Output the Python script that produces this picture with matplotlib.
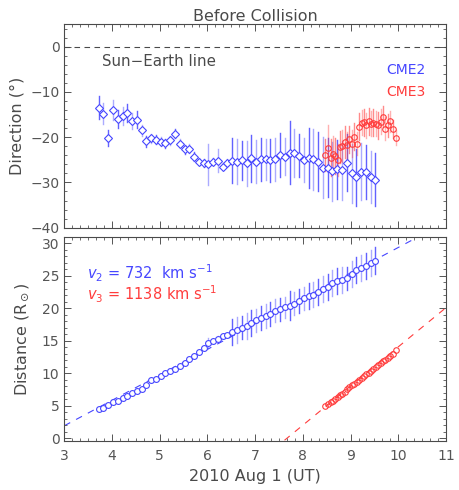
import numpy as np
import matplotlib
matplotlib.use("Agg")
import matplotlib.pyplot as plt
from matplotlib.ticker import MultipleLocator, AutoMinorLocator

# ---------------- data ----------------
t_cme2 = [3.72, 3.82, 3.92, 4.02, 4.12, 4.22, 4.32, 4.42, 4.52, 4.62,
          4.72, 4.82, 4.92, 5.02, 5.12, 5.22, 5.32, 5.42, 5.52, 5.62,
          5.72, 5.82, 5.92, 6.02, 6.12, 6.22, 6.32, 6.42, 6.52, 6.62,
          6.72, 6.82, 6.92, 7.02, 7.12, 7.22, 7.32, 7.42, 7.52, 7.62,
          7.72, 7.82, 7.92, 8.02, 8.12, 8.22, 8.32, 8.42, 8.52, 8.62,
          8.72, 8.82, 8.92, 9.02, 9.12, 9.22, 9.32, 9.42, 9.52]
dir_cme2 = [-13.5, -14.8, -20.2, -14.0, -15.9, -15.4, -14.6, -16.5, -16.1, -18.5,
            -20.9, -20.2, -20.6, -21.0, -21.3, -20.7, -19.2, -21.4, -22.7, -22.6,
            -24.3, -25.4, -25.7, -26.0, -25.4, -25.2, -26.5, -25.6, -25.2, -25.4,
            -25.1, -25.8, -24.7, -25.4, -24.9, -24.9, -25.1, -24.9, -24.0, -24.3,
            -23.4, -23.4, -24.1, -25.0, -24.6, -24.9, -25.4, -26.7, -26.7, -27.5,
            -27.1, -27.3, -25.7, -28.0, -28.9, -27.6, -27.7, -28.8, -29.4]
dir_err_cme2 = [2.5, 2.3, 1.8, 2.2, 2.0, 2.0, 2.0, 1.8, 1.8, 1.2,
                1.2, 1.0, 1.0, 1.0, 1.0, 1.0, 1.0, 1.0, 1.0, 1.0,
                1.0, 0.8, 0.8, 4.5, 0.8, 2.5, 0.8, 0.8, 5.0, 5.0,
                4.3, 5.0, 5.2, 4.7, 4.7, 4.6, 4.7, 4.8, 4.9, 4.1,
                6.9, 5.3, 4.8, 4.8, 6.6, 6.7, 6.5, 6.7, 6.5, 6.5,
                6.5, 6.5, 6.3, 6.5, 6.2, 6.3, 6.0, 5.8, 5.9]
dist_cme2 = [4.47, 4.67, 5.1, 5.5, 5.7, 6.1, 6.5, 6.9, 7.2, 7.6,
             8.1, 8.9, 9.1, 9.5, 10.0, 10.3, 10.6, 11.1, 11.6, 12.1,
             12.7, 13.3, 13.8, 14.6, 14.9, 15.3, 15.7, 15.9, 16.3, 16.7,
             17.0, 17.3, 17.7, 18.1, 18.5, 18.8, 19.1, 19.6, 19.8, 20.1,
             20.4, 20.7, 21.1, 21.5, 21.8, 22.1, 22.5, 22.9, 23.3, 23.8,
             24.2, 24.4, 24.6, 25.3, 25.8, 26.2, 26.5, 26.9, 27.3]
dist_err_cme2 = [0.2, 0.2, 0.2, 0.2, 0.2, 0.2, 0.2, 0.2, 0.2, 0.2,
                 0.2, 0.2, 0.2, 0.2, 0.2, 0.2, 0.2, 0.2, 0.2, 0.2,
                 0.2, 0.2, 0.2, 0.8, 0.2, 0.4, 0.2, 0.2, 2.0, 2.0,
                 1.8, 2.0, 2.0, 1.8, 1.8, 1.8, 1.8, 1.8, 1.8, 1.6,
                 2.2, 1.8, 1.8, 1.8, 2.0, 2.0, 2.0, 2.0, 2.0, 2.0,
                 2.0, 2.0, 1.8, 2.0, 2.0, 2.0, 2.0, 2.0, 2.1]

t_cme3 = [8.47, 8.53, 8.58, 8.63, 8.67, 8.73, 8.78, 8.83, 8.88, 8.93,
          8.97, 9.02, 9.08, 9.13, 9.18, 9.23, 9.28, 9.32, 9.38, 9.43,
          9.48, 9.53, 9.58, 9.63, 9.68, 9.73, 9.78, 9.83, 9.88, 9.95]
dir_cme3 = [-24.0, -22.4, -24.5, -23.8, -24.2, -25.0, -22.1, -21.9, -21.0, -21.8,
            -20.5, -21.4, -19.9, -21.4, -17.7, -16.8, -16.7, -17.4, -16.5, -17.0,
            -16.8, -17.0, -17.4, -16.6, -15.5, -18.1, -17.4, -16.5, -18.1, -20.1]
dir_err_cme3 = [3.5, 5.0, 4.0, 4.0, 4.0, 3.5, 3.5, 3.5, 3.5, 3.0,
                3.0, 3.0, 3.0, 2.5, 3.0, 2.8, 3.0, 2.8, 3.0, 2.8,
                3.0, 2.8, 3.0, 2.8, 2.3, 2.5, 2.5, 2.3, 2.0, 1.7]
dist_cme3 = [5.0, 5.2, 5.5, 5.7, 6.0, 6.4, 6.6, 6.8, 7.1, 7.6,
             7.9, 8.1, 8.4, 8.7, 8.9, 9.2, 9.5, 9.8, 10.0, 10.4,
             10.7, 11.0, 11.3, 11.5, 11.8, 12.0, 12.4, 12.7, 13.0, 13.6]

# linear fits (distance = intercept + slope * t)
fit_cme2 = (-9.86, 3.92)
fit_cme3 = (-46.25, 6.03)
speed_labels = ["732", "1138"]

BLUE = "#4646ff"
RED = "#ff3c3c"
GRAY = "#4a4a4a"
TICKGRAY = "#555555"

plt.rcParams['font.family'] = ['DejaVu Sans']
plt.rcParams['font.size'] = 10
plt.rcParams['text.color'] = GRAY
plt.rcParams['axes.labelcolor'] = GRAY
plt.rcParams['xtick.color'] = TICKGRAY
plt.rcParams['ytick.color'] = TICKGRAY
plt.rcParams['axes.edgecolor'] = GRAY

fig = plt.figure(figsize=(4.6, 4.9), dpi=100)
ax1 = fig.add_axes([0.1398, 0.5353, 0.8298, 0.4157])
ax2 = fig.add_axes([0.1398, 0.1006, 0.8298, 0.4164])


def style(ax):
    ax.tick_params(which='both', direction='in', top=True, right=True,
                   labelsize=10)
    ax.tick_params(which='major', length=5, width=0.7)
    ax.tick_params(which='minor', length=2.5, width=0.6)
    ax.tick_params(axis='x', which='major', pad=6)
    for s in ax.spines.values():
        s.set_linewidth(0.8)
    ax.xaxis.set_major_locator(MultipleLocator(1))
    ax.xaxis.set_minor_locator(AutoMinorLocator(6))


def errbars(ax, x, y, e, color, alphas=(0.85, 0.45)):
    for i, (xi, yi, ei) in enumerate(zip(x, y, e)):
        ax.plot([xi, xi], [yi - ei, yi + ei], color=color,
                alpha=alphas[i % 2], lw=1.0, zorder=2)


# ---------------- top panel ----------------
style(ax1)
ax1.set_xlim(3, 11)
ax1.set_ylim(-40, 5)
ax1.yaxis.set_major_locator(MultipleLocator(10))
ax1.yaxis.set_minor_locator(AutoMinorLocator(5))
ax1.set_xticklabels([])
ax1.axhline(0, color=GRAY, lw=0.8, dashes=(5, 4))
errbars(ax1, t_cme2, dir_cme2, dir_err_cme2, BLUE)
errbars(ax1, t_cme3, dir_cme3, dir_err_cme3, RED, alphas=(0.6, 0.4))
ax1.plot(t_cme2, dir_cme2, ls='none', marker='D', ms=3.6, mfc='white',
         mec=BLUE, mew=0.8, zorder=3)
ax1.plot(t_cme3, dir_cme3, ls='none', marker='o', ms=4.0, mfc='none',
         mec=RED, mew=0.8, zorder=3)
ax1.text(3.79, -3.3, "Sun\u2212Earth line", ha='left', va='center', fontsize=10.8)
ax1.text(10.58, -5.2, "CME2", color=BLUE, ha='right', va='center', fontsize=10)
ax1.text(10.58, -10.1, "CME3", color=RED, ha='right', va='center', fontsize=10)
ax1.set_ylabel("Direction (\u00b0)", fontsize=11.5, labelpad=4)
ax1.set_title("Before Collision", fontsize=11.5, pad=2, color=GRAY)

# ---------------- bottom panel ----------------
style(ax2)
ax2.set_xlim(3, 11)
ax2.set_ylim(-0.4, 31.0)
ax2.yaxis.set_major_locator(MultipleLocator(5))
ax2.yaxis.set_minor_locator(AutoMinorLocator(5))
xx = np.array(ax2.get_xlim())
ax2.plot(xx, fit_cme2[0] + fit_cme2[1] * xx, color=BLUE, lw=0.8,
         dashes=(6, 6), zorder=1)
ax2.plot(xx, fit_cme3[0] + fit_cme3[1] * xx, color=RED, lw=0.8,
         dashes=(6, 6), zorder=1)
errbars(ax2, t_cme2, dist_cme2, dist_err_cme2, BLUE)
ax2.plot(t_cme2, dist_cme2, ls='none', marker='o', ms=4.2, mfc='white',
         mec=BLUE, mew=0.8, zorder=3)
ax2.plot(t_cme3, dist_cme3, ls='none', marker='o', ms=4.0, mfc='none',
         mec=RED, mew=0.8, zorder=3)
ax2.text(3.48, 25.4, r"$\mathit{v}_2$ = %s  km s$^{-1}$" % speed_labels[0],
         color=BLUE, ha='left', va='center', fontsize=10.5)
ax2.text(3.48, 22.2, r"$\mathit{v}_3$ = %s km s$^{-1}$" % speed_labels[1],
         color=RED, ha='left', va='center', fontsize=10.5)
ax2.set_ylabel(r"Distance (R$_\odot$)", fontsize=11.5, labelpad=8)
ax2.set_xlabel("2010 Aug 1 (UT)", fontsize=11.5, labelpad=4)

fig.savefig("out.png", dpi=100)
